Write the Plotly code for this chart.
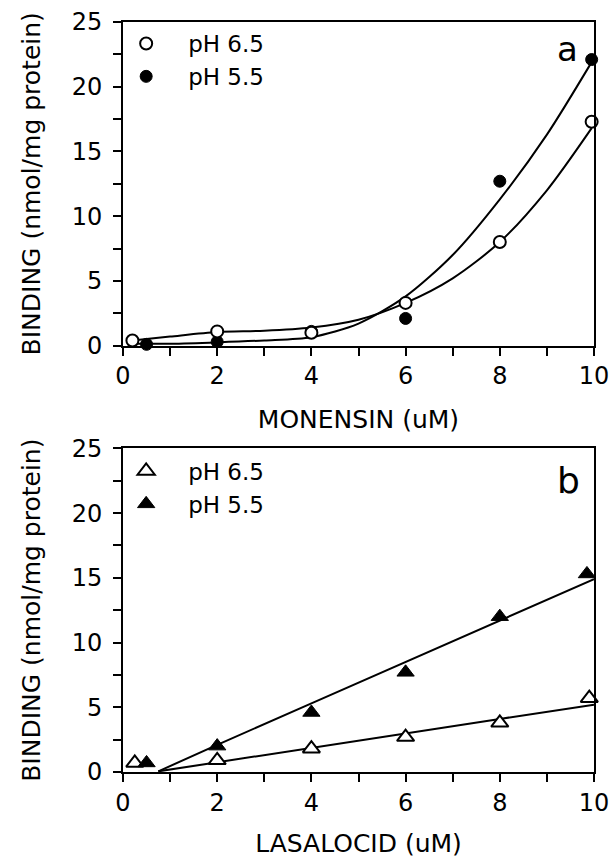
import plotly.graph_objects as go
from plotly.subplots import make_subplots

# ---------------- data ----------------
# Panel a: MONENSIN
a65_x = [0.2, 2, 4, 6, 8, 9.95]
a65_y = [0.4, 1.1, 1.0, 3.3, 8.0, 17.3]
a55_x = [0.5, 2, 4, 6, 8, 9.95]
a55_y = [0.1, 0.3, 1.1, 2.1, 12.7, 22.1]
# hand-drawn fitted curves, panel a
a_fit_x = [0.2, 1, 2, 3, 4, 5, 6, 7, 8, 9, 9.95]
a65_fit = [0.4, 0.7, 1.05, 1.15, 1.4, 2.0, 3.3, 5.2, 8.0, 12.0, 16.8]
a55_fit = [0.15, 0.15, 0.25, 0.4, 0.65, 1.7, 3.8, 7.0, 11.3, 16.3, 21.9]

# Panel b: LASALOCID
b65_x = [0.25, 2, 4, 6, 8, 9.9]
b65_y = [0.7, 0.9, 1.8, 2.7, 3.8, 5.7]
b55_x = [0.5, 2, 4, 6, 8, 9.85]
b55_y = [0.7, 2.0, 4.6, 7.7, 12.0, 15.3]
# fitted lines, panel b
b_fit_x = [0.75, 2, 4, 6, 8, 10]
b65_fit = [0.05, 0.75, 1.9, 3.0, 4.1, 5.2]
b55_fit = [0.05, 2.1, 5.3, 8.5, 11.7, 14.9]

legend_names = ["pH 6.5", "pH 5.5"]
x_titles = ["MONENSIN (uM)", "LASALOCID (uM)"]
y_title = "BINDING (nmol/mg protein)"
panel_labels = ["a", "b"]

FONT = "DejaVu Sans"
BLACK = "black"

fig = make_subplots(rows=2, cols=1, vertical_spacing=0.137)

# ---- panel a ----
fig.add_trace(go.Scatter(x=a_fit_x, y=a65_fit, mode="lines", line=dict(color=BLACK, width=2, shape="spline", smoothing=0.8),
                         showlegend=False, hoverinfo="skip"), row=1, col=1)
fig.add_trace(go.Scatter(x=a_fit_x, y=a55_fit, mode="lines", line=dict(color=BLACK, width=2, shape="spline", smoothing=0.8),
                         showlegend=False, hoverinfo="skip"), row=1, col=1)
fig.add_trace(go.Scatter(x=a55_x, y=a55_y, mode="markers", name=legend_names[1],
                         marker=dict(symbol="circle", size=12, color=BLACK, line=dict(color=BLACK, width=1)),
                         cliponaxis=False, legend="legend", legendrank=2), row=1, col=1)
fig.add_trace(go.Scatter(x=a65_x, y=a65_y, mode="markers", name=legend_names[0],
                         marker=dict(symbol="circle", size=12, color="white", line=dict(color=BLACK, width=2)),
                         cliponaxis=False, legend="legend", legendrank=1), row=1, col=1)

# ---- panel b ----
fig.add_trace(go.Scatter(x=b_fit_x, y=b65_fit, mode="lines", line=dict(color=BLACK, width=2),
                         showlegend=False, hoverinfo="skip"), row=2, col=1)
fig.add_trace(go.Scatter(x=b_fit_x, y=b55_fit, mode="lines", line=dict(color=BLACK, width=2),
                         showlegend=False, hoverinfo="skip"), row=2, col=1)
fig.add_trace(go.Scatter(x=b65_x, y=b65_y, mode="markers", name=legend_names[0],
                         marker=dict(symbol="triangle-up", size=15, color="white", line=dict(color=BLACK, width=2)),
                         cliponaxis=False, legend="legend2", legendrank=1), row=2, col=1)
fig.add_trace(go.Scatter(x=b55_x, y=b55_y, mode="markers", name=legend_names[1],
                         marker=dict(symbol="triangle-up", size=15, color=BLACK, line=dict(color=BLACK, width=1)),
                         cliponaxis=False, legend="legend2", legendrank=2), row=2, col=1)

axis_common = dict(showline=True, linecolor=BLACK, linewidth=2, mirror=True, showgrid=False, zeroline=False,
                   ticks="outside", ticklen=8, tickwidth=2, tickcolor=BLACK, automargin=False,
                   tickfont=dict(family=FONT, size=24, color=BLACK))

for r in (1, 2):
    fig.update_xaxes(range=[0, 10], dtick=2, tick0=0,
                     minor=dict(dtick=1, ticks="outside", ticklen=8, tickwidth=2, tickcolor=BLACK),
                     title=dict(text=x_titles[r - 1], font=dict(family=FONT, size=25, color=BLACK), standoff=21),
                     **axis_common, row=r, col=1)
    fig.update_yaxes(range=[0, 25], dtick=5, tick0=0,
                     minor=dict(dtick=2.5, ticks="outside", ticklen=8, tickwidth=2, tickcolor=BLACK),
                     title=dict(text=y_title, font=dict(family=FONT, size=25, color=BLACK), standoff=24),
                     ticklabelstandoff=6,
                     **axis_common, row=r, col=1)

fig.add_annotation(text=panel_labels[0], xref="x domain", yref="y domain", x=0.97, y=0.985,
                   showarrow=False, font=dict(family=FONT, size=34, color=BLACK))
fig.add_annotation(text=panel_labels[1], xref="x2 domain", yref="y2 domain", x=0.975, y=0.97,
                   showarrow=False, font=dict(family=FONT, size=36, color=BLACK))

legend_common = dict(font=dict(family=FONT, size=23, color=BLACK), bgcolor="rgba(0,0,0,0)",
                     borderwidth=0, xanchor="left", yanchor="top", itemwidth=74,
                     tracegroupgap=0, traceorder="normal")
fig.update_layout(
    width=611, height=858,
    margin=dict(l=123, r=17, t=22, b=86, autoexpand=False),
    plot_bgcolor="white", paper_bgcolor="white",
    legend=dict(x=-0.04, y=1.0, **legend_common),
    legend2=dict(x=-0.04, y=0.43, **legend_common),
)

fig.write_html("out.html")
